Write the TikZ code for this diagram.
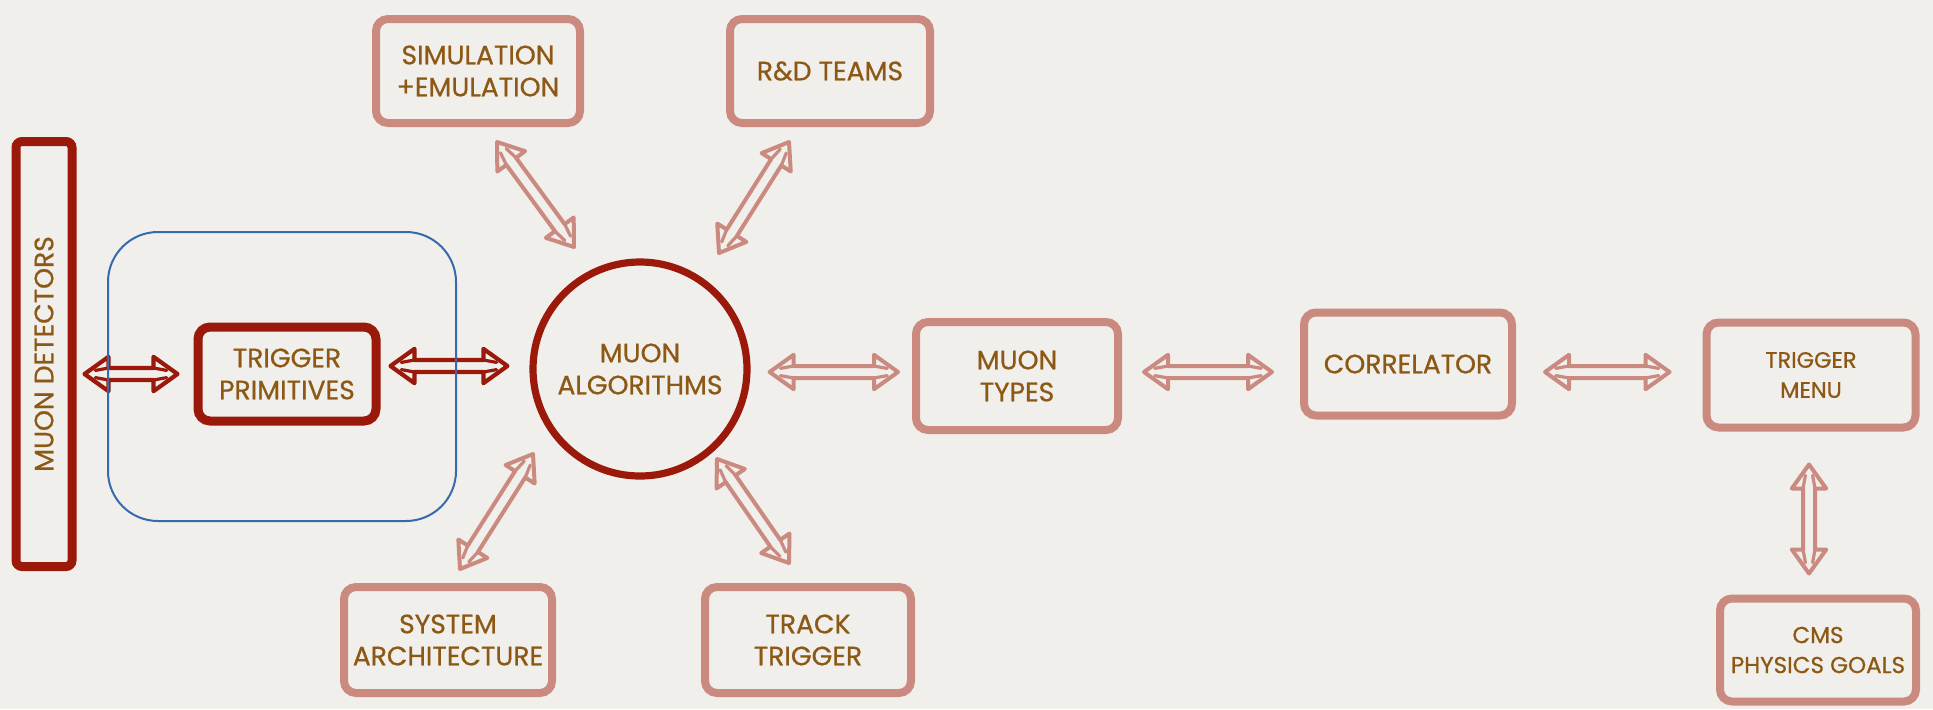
\documentclass[tikz,border=0pt]{standalone}
\usepackage{fontspec}
\setmainfont{Poppins}[FakeBold=0.7]
\usetikzlibrary{arrows.meta,calc}
\definecolor{bgc}{RGB}{240,239,236}
\definecolor{darkr}{RGB}{155,25,10}
\definecolor{lightr}{RGB}{202,138,128}
\definecolor{txt}{RGB}{140,88,20}
\definecolor{blu}{RGB}{55,105,175}
\tikzset{
  box/.style={draw, rounded corners=6pt, align=center, text=txt,
    font=\fontsize{13.3}{16}\selectfont, inner sep=0pt},
  darkbox/.style={box, draw=darkr, line width=4.5pt},
  lightbox/.style={box, draw=lightr, line width=4pt},
  darkarrow/.style={draw=darkr, line width=2.1pt, line join=round, line cap=round},
  lightarrow/.style={draw=lightr, line width=2pt, line join=round, line cap=round},
}
% hollow double-headed arrow: #1 style, #2 from, #3 to
\def\hl{12pt}\def\hw{8.6pt}\def\sw{3pt}
\newcommand\dblarr[3]{%
  \path (#2) coordinate (t1) (#3) coordinate (t2);
  \path ($(t1)!\hl!(t2)$) coordinate (b1) ($(t2)!\hl!(t1)$) coordinate (b2)
        ($(t1)!0.45*\hl!(t2)$) coordinate (m1) ($(t2)!0.45*\hl!(t1)$) coordinate (m2);
  \draw[#1] (t1) -- ($(b1)!\hw!90:(t2)$) -- ($(b1)!\sw!90:(t2)$)
    -- ($(b2)!\sw!-90:(t1)$) -- ($(b2)!\hw!-90:(t1)$) -- (t2)
    -- ($(b2)!\hw!90:(t1)$) -- ($(b2)!\sw!90:(t1)$)
    -- ($(b1)!\sw!-90:(t2)$) -- ($(b1)!\hw!-90:(t2)$) -- cycle;
  \draw[#1, line width=1.6pt] ($(b1)!\sw!90:(t2)$) -- ($(m1)!0.6*\sw!90:(t2)$)
    ($(b1)!\sw!-90:(t2)$) -- ($(m1)!0.6*\sw!-90:(t2)$)
    ($(b2)!\sw!90:(t1)$) -- ($(m2)!0.6*\sw!90:(t1)$)
    ($(b2)!\sw!-90:(t1)$) -- ($(m2)!0.6*\sw!-90:(t1)$);
}
\begin{document}
\begin{tikzpicture}[x=0.5pt,y=-0.5pt]
\fill[bgc] (0,0) rectangle (1933,709);
\useasboundingbox (0,0) rectangle (1933,709);

\node[darkbox, rounded corners=3pt, rotate=90, minimum width=212.5pt, minimum height=28pt] (md) at (44,354) {MUON DETECTORS};
\node[darkbox, minimum width=89pt, minimum height=47pt] (tp) at (287,374) {TRIGGER\\PRIMITIVES};
\node[circle, draw=darkr, line width=3.6pt, minimum size=107pt, align=center, text=txt,
  font=\fontsize{13.3}{16}\selectfont, inner sep=0pt] (ma) at (640,369) {MUON\\ALGORITHMS};
\node[lightbox, minimum width=101pt, minimum height=54pt] (mt) at (1017,376) {MUON\\TYPES};
\node[lightbox, minimum width=104pt, minimum height=51.5pt] (cor) at (1408,364) {CORRELATOR};
\node[lightbox, minimum width=104.5pt, minimum height=52.5pt, font=\fontsize{11.2}{15}\selectfont] (tm) at (1811,375) {TRIGGER\\MENU};
\node[lightbox, minimum width=98pt, minimum height=51.5pt, font=\fontsize{11.5}{15}\selectfont] (cms) at (1818,650) {CMS\\PHYSICS GOALS};
\node[lightbox, minimum width=102pt, minimum height=52pt] (sim) at (478,71) {SIMULATION\\+EMULATION};
\node[lightbox, minimum width=100pt, minimum height=52pt] (rd) at (830,71) {R\&D TEAMS};
\node[lightbox, minimum width=104pt, minimum height=53pt] (sys) at (448,640) {SYSTEM\\ARCHITECTURE};
\node[lightbox, minimum width=103pt, minimum height=53pt] (tt) at (808,640) {TRACK\\TRIGGER};

\dblarr{darkarrow}{$(tp.west -| md.south)+(8,0)$}{$(tp.west)+(-16,0)$}
\dblarr{darkarrow}{$(tp.east)+(10,-8)$}{$(tp.east -| ma.west)+(-22,-8)$}
\dblarr{lightarrow}{$(mt.west -| ma.east)+(19,-4)$}{$(mt.west)+(-14,-4)$}
\dblarr{lightarrow}{$(mt.east)+(22,-4)$}{$(mt.east -| cor.west)+(-28,-4)$}
\dblarr{lightarrow}{$(tm.west -| cor.east)+(29,-3)$}{$(tm.west)+(-33,-3)$}
\dblarr{lightarrow}{$(tm.south)+(-2,33)$}{$(tm.south |- cms.north)+(-2,-21)$}

\dblarr{lightarrow}{$(sim.south)+(19,15)$}{$(ma.center)+(-66,-122)$}
\dblarr{lightarrow}{$(rd.south)+(-41,15)$}{$(ma.center)+(79,-116)$}
\dblarr{lightarrow}{$(sys.north)+(12,-14)$}{$(ma.center)+(-107,85)$}
\dblarr{lightarrow}{$(tt.north)+(-19,-20)$}{$(ma.center)+(77,90)$}

\node[draw=blu, line width=1pt, rounded corners=25pt, minimum width=174pt, minimum height=144.5pt, inner sep=0pt] (grp) at (282,376.5) {};
\end{tikzpicture}
\end{document}
